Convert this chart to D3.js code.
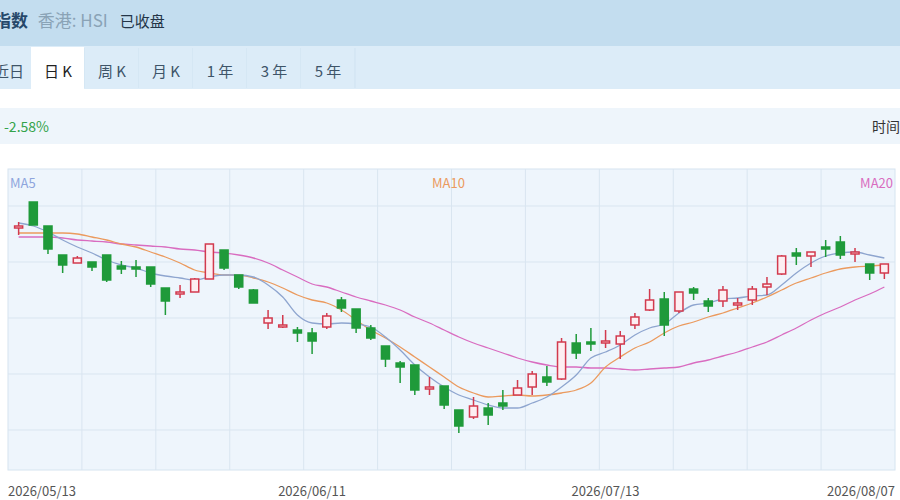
<!DOCTYPE html>
<html><head><meta charset="utf-8">
<script src="https://cdn.jsdelivr.net/npm/d3@7"></script>
<style>body{margin:0;background:#fff;font-family:"Noto Sans CJK SC","Noto Sans",sans-serif}</style>
</head><body><svg id="c" width="900" height="500"></svg>
<script>
// OHLC (index points)
const opens  = [25730,25980,25740,25450,25370,25380,25450,25340,25330,25330,25120,25080,25080,25210,25500,25250,25100,24770,24750,24700,24670,24730,25000,24910,24720,24540,24370,24350,24130,24140,23900,23830,23920,23970,24050,24130,24230,24210,24570,24580,24570,24560,24750,24900,25010,24890,25110,24990,24990,24950,25000,25130,25260,25470,25440,25530,25580,25480,25360,25270];
const closes = [25740,25750,25510,25350,25420,25330,25200,25310,25310,25160,24990,25080,25210,25560,25320,25130,24970,24820,24750,24670,24590,24840,24920,24720,24620,24410,24330,24100,24130,23950,23740,23940,23850,23940,24120,24260,24180,24580,24470,24560,24590,24640,24830,25000,24750,25080,25070,24940,25100,24970,25110,25160,25440,25440,25480,25520,25450,25480,25270,25360];
const highs  = [25780,25980,25740,25450,25440,25380,25450,25390,25400,25330,25120,25150,25220,25560,25500,25250,25110,24900,24850,24730,24720,24870,25030,24910,24750,24540,24390,24350,24230,24140,23900,24030,23970,24100,24200,24290,24340,24620,24660,24720,24700,24690,24870,25110,25080,25080,25130,25020,25140,25020,25140,25230,25450,25520,25480,25600,25640,25520,25360,25360];
const lows   = [25650,25750,25460,25270,25370,25290,25180,25260,25230,25130,24850,25020,25080,25210,25300,25110,24970,24710,24720,24580,24460,24710,24880,24670,24600,24330,24170,24050,24050,23910,23670,23810,23750,23900,24050,24050,24140,24200,24410,24490,24520,24410,24710,24890,24640,24870,25000,24880,24930,24900,24950,25050,25250,25350,25330,25430,25410,25380,25200,25210];
// Moving averages
const ma5  = [25770,25740,25680,25600,25530,25470,25400,25350,25320,25270,25240,25220,25200,25230,25250,25250,25230,25150,25030,24850,24770,24760,24770,24760,24730,24630,24500,24350,24230,24130,24050,24000,23950,23920,23920,23970,24030,24130,24250,24420,24480,24550,24650,24720,24760,24870,24950,24970,25010,25020,25040,25050,25150,25270,25370,25440,25470,25480,25450,25420];
const ma10 = [25670,25670,25670,25670,25660,25630,25600,25560,25530,25480,25430,25370,25300,25270,25250,25250,25220,25180,25120,25050,25000,24970,24900,24800,24700,24620,24530,24430,24330,24230,24130,24070,24030,24040,24050,24040,24050,24070,24100,24170,24330,24430,24520,24580,24670,24740,24780,24830,24870,24920,24970,25030,25100,25170,25220,25270,25310,25330,25340,25350];
const ma20 = [25630,25630,25630,25620,25600,25590,25580,25560,25550,25540,25530,25510,25500,25480,25470,25450,25420,25370,25300,25230,25160,25130,25080,25030,24990,24950,24900,24830,24770,24700,24630,24570,24520,24470,24420,24380,24350,24330,24330,24320,24320,24310,24300,24310,24320,24330,24370,24400,24440,24480,24530,24580,24650,24720,24800,24870,24930,25000,25060,25130];
const gridValues = [25940,25380,24820,24260,23700];
const tickLabels = [[0,"2026/05/13"],[20,"2026/06/11"],[40,"2026/07/13"],[59,"2026/08/07"]];
const tabs = ["日 K","周 K","月 K","1 年","3 年","5 年"];

(function(){
const svg = d3.select("#c");
svg.append("rect").attr("x",0).attr("y",0).attr("width",900).attr("height",46).attr("fill","#c3ddef");
const h = svg.append("text").attr("x",-6).attr("y",27).attr("font-size",17);
h.append("tspan").text("指数").attr("fill","#26486a").attr("font-weight","bold");
h.append("tspan").text(" 香港: HSI").attr("fill","#8aa3b6").attr("dx",6);
h.append("tspan").text("已收盘").attr("fill","#233548").attr("dx",12).attr("font-size",15);
svg.append("rect").attr("x",0).attr("y",46).attr("width",900).attr("height",43).attr("fill","#dcecf8");
svg.append("text").attr("x",-6).attr("y",77).attr("font-size",15).attr("fill","#3e5468").text("近日");
tabs.forEach((t,i)=>{
  const x0 = 31 + i*54;
  svg.append("rect").attr("x",x0).attr("y",47).attr("width",53).attr("height",42)
    .attr("fill", i===0?"#ffffff":"#dcecf8");
  svg.append("line").attr("x1",x0+54).attr("x2",x0+54).attr("y1",48).attr("y2",88).attr("stroke","#cfe2f1");
  svg.append("text").attr("x",x0+27).attr("y",77).attr("text-anchor","middle").attr("font-size",15)
    .attr("fill", i===0?"#222":"#3e5468").text(t);
});
svg.append("rect").attr("x",0).attr("y",108).attr("width",900).attr("height",36).attr("fill","#eef5fb");
svg.append("text").attr("x",4).attr("y",132).attr("font-size",14).attr("fill","#33a34a").text("-2.58%");
svg.append("text").attr("x",872).attr("y",132).attr("font-size",14).attr("fill","#333").text("时间");

const L=8, R=895, T=169, B=470;
svg.append("rect").attr("x",L).attr("y",T).attr("width",R-L).attr("height",B-T)
  .attr("fill","#eef5fc").attr("stroke","#d6e4f0");
const x = d3.scaleBand().domain(d3.range(opens.length)).range([L,R]).padding(0.45);
const y = d3.scaleLinear().domain([23300,26310]).range([B,T]);
const g = svg.append("g");
gridValues.forEach(v=>g.append("line").attr("x1",L).attr("x2",R).attr("y1",y(v)).attr("y2",y(v)).attr("stroke","#d9e5f0"));
const xs = d3.scaleLinear().domain([0,12]).range([L,R]);
d3.range(1,12).forEach(i=>g.append("line").attr("x1",xs(i)).attr("x2",xs(i)).attr("y1",T).attr("y2",B).attr("stroke","#d9e5f0"));

const cx = i => x(i)+x.bandwidth()/2;
const line = arr => d3.line().x((d,i)=>cx(i)).y(d=>y(d)).curve(d3.curveMonotoneX)(arr);
[[ma20,"#d96cc0"],[ma10,"#eb9a5e"],[ma5,"#8ea5cf"]].forEach(([a,c])=>
  g.append("path").attr("d",line(a)).attr("fill","none").attr("stroke",c).attr("stroke-width",1.3));

opens.forEach((o,i)=>{
  const c = closes[i], up = c>=o, col = up?"#d23a4e":"#1f9a3a";
  g.append("line").attr("x1",cx(i)).attr("x2",cx(i)).attr("y1",y(highs[i])).attr("y2",y(lows[i])).attr("stroke",col).attr("stroke-width",1.5);
  const yt = y(Math.max(o,c)), hb = Math.max(2, Math.abs(y(o)-y(c)));
  g.append("rect").attr("x",x(i)).attr("y",yt).attr("width",x.bandwidth()).attr("height",hb)
    .attr("fill", up?"#fdeef2":"#1f9a3a").attr("stroke",col).attr("stroke-width",1.5);
});

svg.append("text").attr("x",10).attr("y",188).attr("font-size",13).attr("fill","#8ea5dd").text("MA5");
svg.append("text").attr("x",432).attr("y",188).attr("font-size",13).attr("fill","#eb9a5e").text("MA10");
svg.append("text").attr("x",893).attr("y",188).attr("text-anchor","end").attr("font-size",13).attr("fill","#d96cc0").text("MA20");

tickLabels.forEach(([i,t],k)=>{
  const anchor = k===0?"start":(k===tickLabels.length-1?"end":"middle");
  const xx = k===0?L:(k===tickLabels.length-1?R:cx(i));
  svg.append("text").attr("x",xx).attr("y",496).attr("font-size",13).attr("fill","#555").attr("text-anchor",anchor).text(t);
});
})();
</script></body></html>
